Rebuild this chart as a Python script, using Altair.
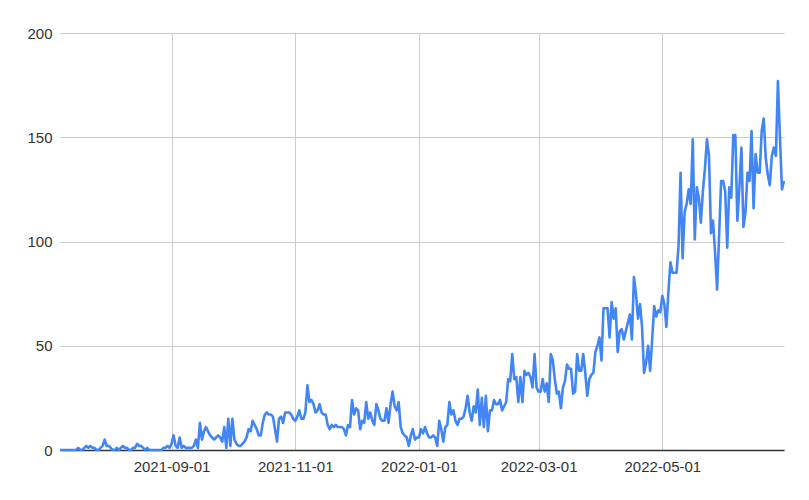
import altair as alt
import pandas as pd

start_date = "2021-07-08"

# daily counts, 2021-07-08 .. 2021-12-31
counts_2021 = [
    0, 0, 0, 0, 0, 0, 0, 0, 0, 1,
    0, 0, 1, 2, 1, 2, 1, 1, 0, 0,
    1, 2, 5, 2, 2, 1, 0, 0, 1, 0,
    1, 2, 1, 1, 0, 0, 1, 1, 3, 2,
    2, 1, 0, 1, 0, 0, 0, 0, 0, 0,
    0, 1, 1, 2, 1, 3, 7, 2, 1, 6,
    1, 2, 1, 1, 1, 1, 2, 5, 1, 13,
    5, 9, 11, 9, 7, 6, 5, 6, 7, 6,
    4, 11, 1, 15, 2, 15, 5, 3, 2, 2,
    3, 4, 6, 10, 9, 14, 12, 10, 7, 7,
    13, 17, 18, 17, 17, 16, 10, 4, 15, 16,
    13, 18, 18, 18, 17, 15, 14, 16, 19, 15,
    15, 18, 31, 23, 24, 22, 18, 19, 22, 18,
    17, 17, 12, 10, 12, 11, 12, 11, 11, 11,
    10, 7, 12, 11, 24, 17, 20, 19, 10, 14,
    13, 23, 15, 18, 14, 12, 22, 19, 15, 14,
    14, 20, 13, 22, 28, 21, 19, 23, 11, 8,
    7, 6, 2, 7, 10, 5, 6,
]

# daily counts, 2022-01-01 .. 2022-06-30
counts_2022 = [
    6, 10, 8,
    11, 8, 6, 6, 7, 6, 2, 14, 10, 4,
    11, 12, 23, 17, 19, 14, 12, 15, 15, 16,
    20, 26, 18, 14, 21, 18, 29, 12, 25, 11,
    26, 9, 19, 19, 24, 22, 22, 24, 19, 21,
    23, 34, 33, 46, 34, 35, 23, 35, 23, 38,
    36, 37, 35, 30, 46, 30, 28, 28, 34, 28,
    32, 23, 46, 43, 34, 27, 28, 20, 30, 33,
    41, 39, 39, 27, 28, 46, 38, 38, 46, 37,
    26, 34, 36, 37, 47, 50, 54, 43, 68, 68,
    68, 54, 71, 63, 68, 47, 57, 58, 53, 57,
    61, 65, 53, 83, 75, 63, 70, 59, 37, 42,
    50, 38, 53, 69, 64, 67, 66, 74, 70, 59,
    76, 90, 85, 85, 85, 98, 133, 92, 114, 118,
    125, 118, 149, 101, 126, 121, 109, 124, 135, 149,
    141, 104, 110, 95, 77, 103, 129, 129, 124, 97,
    126, 121, 151, 151, 110, 126, 145, 107, 114, 133,
    129, 153, 116, 142, 133, 133, 153, 159, 140, 132,
    127, 141, 145, 141, 177, 150, 125, 129,
]

y_ticks = [0, 50, 100, 150, 200]
x_tick_dates = [(2021, 9, 1), (2021, 11, 1), (2022, 1, 1), (2022, 3, 1), (2022, 5, 1)]
x_domain = [(2021, 7, 8), (2022, 6, 30)]

counts = counts_2021 + counts_2022
dates = pd.date_range(start_date, periods=len(counts), freq="D").strftime("%Y-%m-%d")
df = pd.DataFrame({"date": list(dates), "count": counts})


def dt(t):
    return alt.DateTime(year=t[0], month=t[1], date=t[2], utc=True)


FONT = "Liberation Sans"
LABEL_COLOR = "#333333"
GRID = "#cccccc"

chart = (
    alt.Chart(df)
    .mark_line(color="#4285F4", strokeWidth=2.6, strokeJoin="round")
    .encode(
        x=alt.X(
            "date:T",
            scale=alt.Scale(type="utc", domain=[dt(x_domain[0]), dt(x_domain[1])]),
            axis=alt.Axis(
                values=[dt(t) for t in x_tick_dates],
                format="%Y-%m-%d",
                title=None,
                grid=True,
                gridColor=GRID,
                gridWidth=1,
                domain=True,
                domainColor="#333333",
                domainWidth=1.5,
                ticks=False,
                labelPadding=9,
                labelFont=FONT,
                labelFontSize=15,
                labelColor=LABEL_COLOR,
            ),
        ),
        y=alt.Y(
            "count:Q",
            scale=alt.Scale(domain=[0, 200], nice=False),
            axis=alt.Axis(
                values=y_ticks,
                title=None,
                grid=True,
                gridColor=GRID,
                gridWidth=1,
                domain=False,
                ticks=False,
                labelPadding=8,
                labelFont=FONT,
                labelFontSize=15,
                labelColor=LABEL_COLOR,
            ),
        ),
    )
    .properties(
        width=724,
        height=417,
        autosize="none",
        padding={"left": 52, "top": 25, "right": 17, "bottom": 42},
    )
    .configure_view(stroke=None)
)

chart.save("out.html", embed_options={"renderer": "svg", "actions": False})
